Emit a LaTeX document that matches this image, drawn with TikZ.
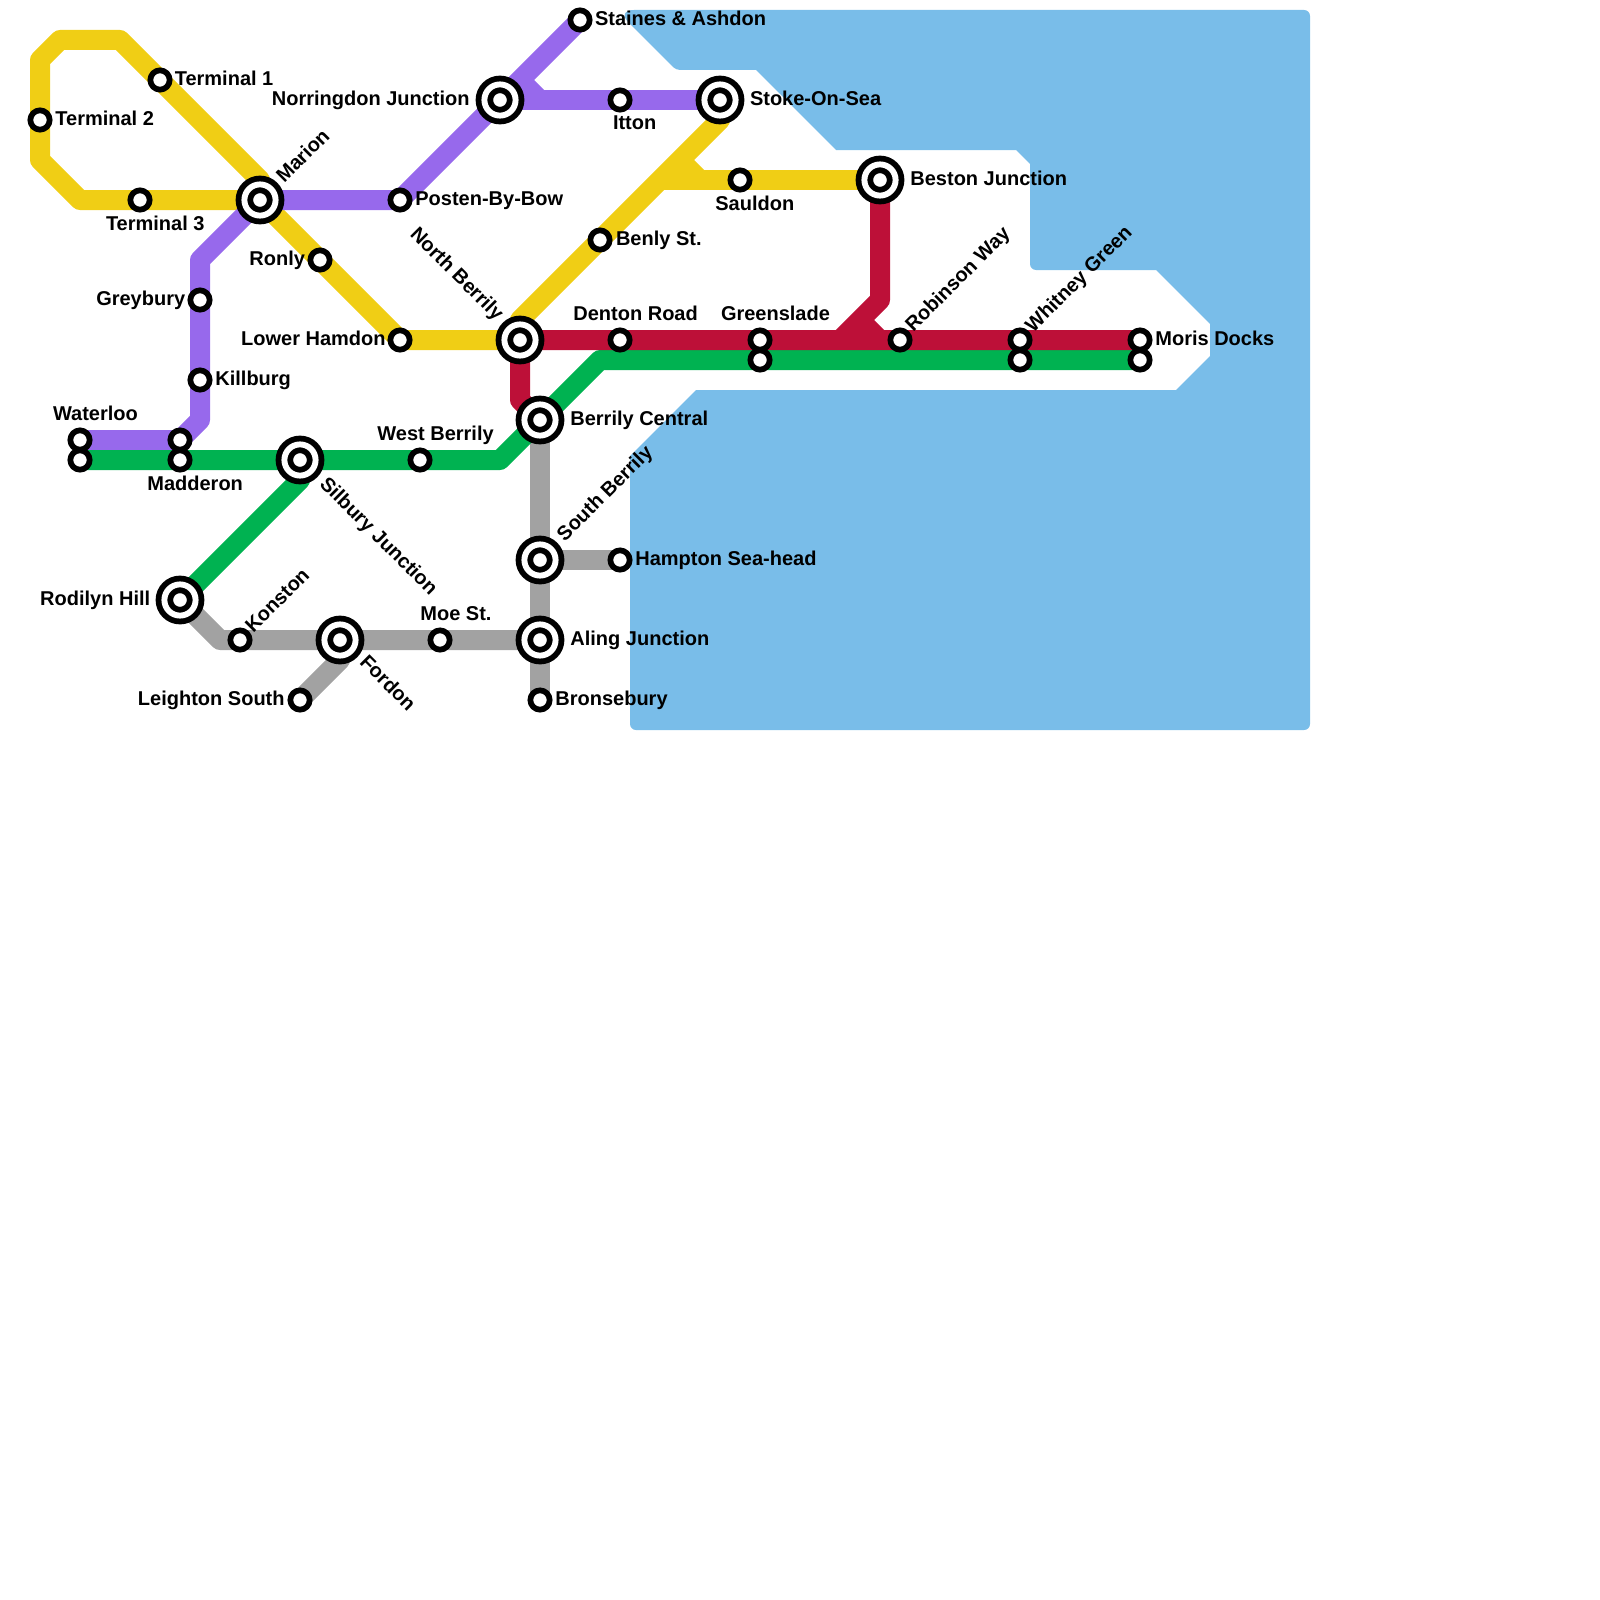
\documentclass[tikz,border=0pt]{standalone}
\usepackage{fontspec}
\setmainfont{Liberation Sans}
\usetikzlibrary{backgrounds}
\definecolor{ylw}{HTML}{F0CE15}
\definecolor{prp}{HTML}{9769EC}
\definecolor{crim}{HTML}{BD1038}
\definecolor{grn}{HTML}{00B251}
\definecolor{gry}{HTML}{A2A2A2}
\definecolor{sea}{HTML}{79BDE9}

\begin{document}
\begin{tikzpicture}[
  x=10pt,y=-10pt,font=\bfseries,
  stn/.style={circle, draw=black, fill=white, line width=2.85pt, inner sep=0pt,
    outer sep=0pt, minimum size=9.65pt},
  hub/.style={circle, draw=black, fill=white, line width=2.9pt, double=white,
    double distance=2.95pt, inner sep=0pt, outer sep=0pt, minimum size=15.6pt},
  track/.style={line width=10pt, line join=round},
  lbl/.style={inner sep=0pt, anchor=base west},
  lble/.style={inner sep=0pt, anchor=base east},
  lblup/.style={lbl, rotate=45},
  lbldn/.style={lbl, rotate=-45}
]
  \useasboundingbox (0,0) rectangle (80,80);

  \node[stn] (staines) at (29,1) {};
  \node[hub] (norringdon) at (25,5) {};
  \node[stn] (itton) at (31,5) {};
  \node[hub] (stoke) at (36,5) {};
  \node[stn] (termone) at (8,4) {};
  \node[stn] (termtwo) at (2,6) {};
  \node[stn] (termthree) at (7,10) {};
  \node[hub] (marion) at (13,10) {};
  \node[stn] (posten) at (20,10) {};
  \node[stn] (benly) at (30,12) {};
  \node[stn] (sauldon) at (37,9) {};
  \node[hub] (beston) at (44,9) {};
  \node[stn] (ronly) at (16,13) {};
  \node[stn] (greybury) at (10,15) {};
  \node[stn] (killburg) at (10,19) {};
  \node[stn] (lowerh) at (20,17) {};
  \node[hub] (nberrily) at (26,17) {};
  \node[stn] (denton) at (31,17) {};
  \node[stn] (greenup) at (38,17) {};
  \node[stn] (greenlo) at (38,18) {};
  \node[stn] (robinson) at (45,17) {};
  \node[stn] (whitneyup) at (51,17) {};
  \node[stn] (whitneylo) at (51,18) {};
  \node[stn] (morisup) at (57,17) {};
  \node[stn] (morislo) at (57,18) {};
  \node[hub] (berrilyc) at (27,21) {};
  \node[stn] (waterup) at (4,22) {};
  \node[stn] (waterlo) at (4,23) {};
  \node[stn] (maddup) at (9,22) {};
  \node[stn] (maddlo) at (9,23) {};
  \node[hub] (silbury) at (15,23) {};
  \node[stn] (westb) at (21,23) {};
  \node[hub] (southb) at (27,28) {};
  \node[stn] (hampton) at (31,28) {};
  \node[hub] (rodilyn) at (9,30) {};
  \node[stn] (konston) at (12,32) {};
  \node[hub] (fordon) at (17,32) {};
  \node[stn] (moe) at (22,32) {};
  \node[hub] (aling) at (27,32) {};
  \node[stn] (leighton) at (15,35) {};
  \node[stn] (bronse) at (27,35) {};

  \coordinate (yjoin) at (34,8);
  \coordinate (ystub) at (33,9);
  \coordinate (pjoin) at (26,4);
  \coordinate (rjoin) at (43,16);

  \begin{scope}[on background layer]
    \fill[sea] (35,3.5) -- (37.8,3.5) -- (41.8,7.5) -- (50.8,7.5) -- (51.5,8.2)
      [rounded corners=3pt] -- (51.5,13.5) [sharp corners] -- (57.8,13.5)
      -- (60.5,16.2) -- (60.5,17.8) -- (58.8,19.5) -- (34.8,19.5) -- (31.5,22.8)
      [rounded corners=3pt] -- (31.5,36.5) -- (65.5,36.5) -- (65.5,0.5)
      [rounded corners=9pt] -- (30.8,0.5) [rounded corners=2pt] -- (33.8,3.5)
      -- cycle;

    \draw[track, ylw] (marion.center) -- (13,9) -- (termone.center) -- (6,2)
      -- (3,2) -- (2,3) -- (termtwo.center) -- (2,8) -- (4,10)
      -- (termthree.center) -- (marion.center) -- (ronly.center)
      -- (lowerh.center) -- (nberrily.center) -- (26,16) -- (benly.center)
      -- (yjoin) -- (36,6) -- (stoke.center);
    \draw[track, ylw] (ystub) -- (sauldon.center) -- (beston.center);
    \draw[track, ylw] (yjoin) -- (35,9);

    \draw[track, prp] (waterup.center) -- (maddup.center) -- (10,21)
      -- (killburg.center) -- (greybury.center) -- (10,13) -- (marion.center)
      -- (posten.center) -- (norringdon.center) -- (staines.center);
    \draw[track, prp] (norringdon.center) -- (itton.center) -- (stoke.center);
    \draw[track, prp] (pjoin) -- (27,5);

    \draw[track, gry] (berrilyc.center) -- (southb.center) -- (aling.center)
      -- (bronse.center);
    \draw[track, gry] (southb.center) -- (hampton.center);
    \draw[track, gry] (rodilyn.center) -- (11,32) -- (konston.center)
      -- (fordon.center) -- (moe.center) -- (aling.center);
    \draw[track, gry] (fordon.center) -- (17,33) -- (leighton.center);

    \draw[track, grn] (waterlo.center) -- (maddlo.center) -- (silbury.center)
      -- (westb.center) -- (25,23) -- (berrilyc.center) -- (30,18)
      -- (greenlo.center) -- (whitneylo.center) -- (morislo.center);
    \draw[track, grn] (rodilyn.center) -- (15,24) -- (silbury.center);

    \draw[track, crim] (berrilyc.center) -- (26,20) -- (nberrily.center)
      -- (denton.center) -- (greenup.center) -- (robinson.center)
      -- (whitneyup.center) -- (morisup.center);
    \draw[track, crim] (42,17) -- (rjoin) -- (44,15) -- (beston.center);
    \draw[track, crim] (rjoin) -- (44,17);
  \end{scope}

  \node[lbl] (stainesl) at (29.73,1.27) {Staines \& Ashdon};
  \node[lble] (norringdonl) at (23.5,5.27) {Norringdon Junction};
  \node[lbl] (ittonl) at (30.63,6.5) {Itton};
  \node[lbl] (stokel) at (37.48,5.25) {Stoke-On-Sea};
  \node[lbl] (termonel) at (8.72,4.27) {Terminal 1};
  \node[lbl] (termtwol) at (2.75,6.27) {Terminal 2};
  \node[lbl] (termthreel) at (5.28,11.5) {Terminal 3};
  \node[lblup] (marionl) at (14.2,9.2) {Marion};
  \node[lbl] (postenl) at (20.75,10.27) {Posten-By-Bow};
  \node[lbl] (benlyl) at (30.78,12.25) {Benly St.};
  \node[lbl] (sauldonl) at (35.75,10.5) {Sauldon};
  \node[lbl] (bestonl) at (45.5,9.25) {Beston Junction};
  \node[lble] (ronlyl) at (15.27,13.25) {Ronly};
  \node[lble] (greyburyl) at (9.28,15.25) {Greybury};
  \node[lbl] (killburgl) at (10.75,19.25) {Killburg};
  \node[lble] (lowerhl) at (19.3,17.25) {Lower Hamdon};
  \node[lble, rotate=-45] (nberrilyl) at (24.8,16.1) {North Berrily};
  \node[lbl] (dentonl) at (28.65,16) {Denton Road};
  \node[lbl] (greenl) at (36.03,16) {Greenslade};
  \node[lblup] (robinsonl) at (45.65,16.65) {Robinson Way};
  \node[lblup] (whitneyl) at (51.65,16.68) {Whitney Green};
  \node[lbl] (morisl) at (57.75,17.25) {Moris Docks};
  \node[lbl] (berrilycl) at (28.5,21.25) {Berrily Central};
  \node[lbl] (waterl) at (2.63,21.02) {Waterloo};
  \node[lbl] (maddl) at (7.35,24.5) {Madderon};
  \node[lbldn] (silburyl) at (15.93,24.25) {Silbury Junction};
  \node[lbl] (westbl) at (18.85,22) {West Berrily};
  \node[lblup] (southbl) at (28.23,27.13) {South Berrily};
  \node[lbl] (hamptonl) at (31.75,28.25) {Hampton Sea-head};
  \node[lble] (rodilynl) at (7.53,30.25) {Rodilyn Hill};
  \node[lblup] (konstonl) at (12.65,31.7) {Konston};
  \node[lbldn] (fordonl) at (17.93,33.15) {Fordon};
  \node[lbl] (moel) at (21,31) {Moe St.};
  \node[lbl] (alingl) at (28.5,32.25) {Aling Junction};
  \node[lble] (leightonl) at (14.25,35.25) {Leighton South};
  \node[lbl] (bronsel) at (27.75,35.25) {Bronsebury};
\end{tikzpicture}
\end{document}
